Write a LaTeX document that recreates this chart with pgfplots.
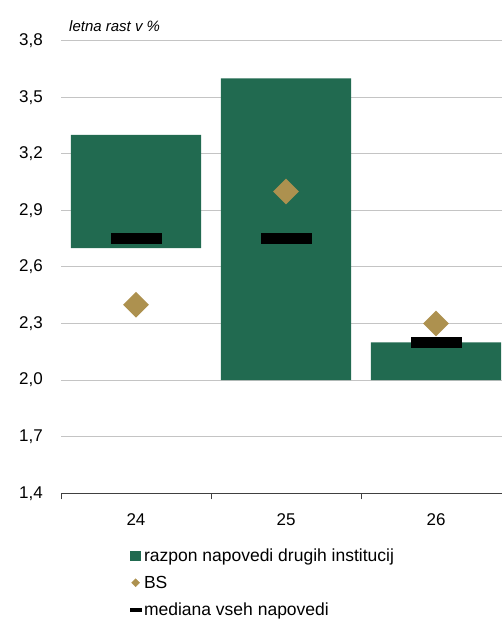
\documentclass[border=0pt]{standalone}
\usepackage{pgfplots}
\pgfplotsset{compat=1.18}
\usepackage{fontspec}
\setmainfont{Liberation Sans}
\definecolor{bargreen}{HTML}{216A50}
\definecolor{bsgold}{HTML}{AD914F}
\definecolor{gridgray}{HTML}{C4C4C4}
\definecolor{axisgray}{HTML}{404040}
\pgfdeclareplotmark{medbar}{\pgfpathrectangle{\pgfpoint{-25.5bp}{-5.5bp}}{\pgfpoint{51bp}{11bp}}\pgfusepathqfill}
\pgfdeclareplotmark{bsdiamond}{\pgfpathmoveto{\pgfpoint{0bp}{12.9bp}}\pgfpathlineto{\pgfpoint{12.9bp}{0bp}}\pgfpathlineto{\pgfpoint{0bp}{-12.9bp}}\pgfpathlineto{\pgfpoint{-12.9bp}{0bp}}\pgfpathclose\pgfusepathqfill}
\begin{document}
\begin{tikzpicture}
\path[use as bounding box] (0,0) rectangle (502bp,619bp);
\begin{axis}[
  at={(61bp,125.7bp)}, anchor=south west,
  scale only axis, width=441bp, height=452.6bp,
  xmin=-0.5, xmax=2.44, ymin=1.4, ymax=3.8,
  ytick={1.4,1.7,2.0,2.3,2.6,2.9,3.2,3.5,3.8},
  ymajorgrids, y grid style={gridgray, line width=1bp},
  axis x line*=bottom, axis y line*=left,
  x axis line style={axisgray, line width=1.2bp, -},
  y axis line style={draw=none},
  ytick style={draw=none},
  xtick={-0.5,0.5,1.5}, xticklabels={},
  xtick style={axisgray, line width=1bp},
  tick align=outside, major tick length=6bp,
  extra x ticks={0,1,2}, extra x tick labels={24,25,26},
  extra x tick style={major tick length=0pt, grid=none},
  xticklabel style={font=\fontsize{17bp}{20bp}\selectfont, inner sep=0pt, anchor=north, yshift=-20bp},
  yticklabel style={font=\fontsize{17bp}{20bp}\selectfont, inner sep=0pt, anchor=east, xshift=-12bp},
  /pgf/number format/.cd, use comma, fixed, fixed zerofill, precision=1, assume math mode=true,
  /pgfplots/.cd,
  legend style={draw=none, fill=none, at={(axis description cs:0.156,-0.122)}, anchor=north west,
    font=\fontsize{17.5bp}{21bp}\selectfont, inner sep=0pt, row sep=13bp,
    nodes={inner sep=0pt, anchor=west}},
  legend cell align=left,
  clip=true,
]
\addplot[ybar, bar width=0.867, bar shift=0pt, stack plots=y, draw=none, fill=none, forget plot]
  coordinates {(0,2.7) (1,2.0) (2,2.0)};
\addplot[ybar, bar width=0.867, bar shift=0pt, stack plots=y, draw=none, fill=bargreen,
  legend image code/.code={\fill[bargreen] (0bp,-5.3bp) rectangle (10.7bp,5.3bp);}]
  coordinates {(0,0.6) (1,1.6) (2,0.2)};
\addlegendentry{\,razpon napovedi drugih institucij}
\addplot[stack plots=false, only marks, color=bsgold, mark=bsdiamond, mark options={fill=bsgold, draw=none},
  legend image code/.code={\fill[bsgold] (5.35bp,-4bp) -- (9.35bp,0bp) -- (5.35bp,4bp) -- (1.35bp,0bp) -- cycle; \path[draw=none, fill=none] (0bp,-5.3bp) rectangle (10.7bp,5.3bp);}]
  coordinates {(0,2.4) (1,3.0) (2,2.3)};
\addlegendentry{\,BS}
\addplot[stack plots=false, only marks, color=black, mark=medbar, mark options={fill=black, draw=none},
  legend image code/.code={\fill[black] (0bp,-1.6bp) rectangle (10.7bp,1.6bp); \path[draw=none, fill=none] (0bp,-5.3bp) rectangle (10.7bp,5.3bp);}]
  coordinates {(0,2.75) (1,2.75) (2,2.2)};
\addlegendentry{\,mediana vseh napovedi}
\end{axis}
\node[anchor=base west, inner sep=0pt, font=\fontsize{15bp}{18bp}\selectfont\itshape]
  at (69bp,587bp) {letna rast v \%};
\end{tikzpicture}
\end{document}
